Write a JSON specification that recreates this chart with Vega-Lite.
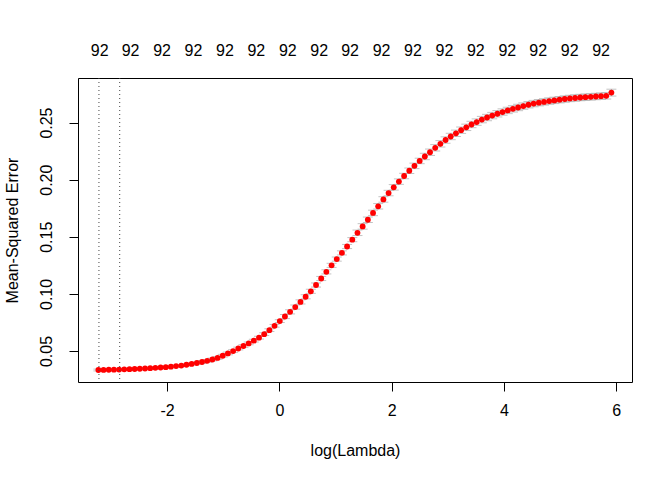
{
  "$schema": "https://vega.github.io/schema/vega-lite/v6.json",
  "width": 554,
  "height": 304,
  "autosize": {"type": "none"},
  "padding": {"left": 78, "top": 78, "right": 40, "bottom": 98},
  "background": "white",
  "config": {
    "view": {"stroke": "black", "strokeWidth": 1},
    "font": "Liberation Sans",
    "axis": {"grid": false, "domain": false, "labelFont": "Liberation Sans", "titleFont": "Liberation Sans", "labelFontSize": 16, "titleFontSize": 16, "titleFontWeight": "normal", "labelColor": "black", "titleColor": "black", "tickColor": "black", "tickSize": 9, "tickWidth": 1, "labelFlush": false, "labelOverlap": false}
  },
  "datasets": {
    "cv": [
      {"logLambda": -3.225, "cvm": 0.0334, "cvlo": 0.0326, "cvup": 0.0342},
      {"logLambda": -3.133, "cvm": 0.0335, "cvlo": 0.0327, "cvup": 0.0343},
      {"logLambda": -3.040, "cvm": 0.0336, "cvlo": 0.0328, "cvup": 0.0344},
      {"logLambda": -2.948, "cvm": 0.0337, "cvlo": 0.0329, "cvup": 0.0345},
      {"logLambda": -2.856, "cvm": 0.0338, "cvlo": 0.0330, "cvup": 0.0346},
      {"logLambda": -2.764, "cvm": 0.0340, "cvlo": 0.0332, "cvup": 0.0348},
      {"logLambda": -2.671, "cvm": 0.0341, "cvlo": 0.0333, "cvup": 0.0349},
      {"logLambda": -2.579, "cvm": 0.0343, "cvlo": 0.0335, "cvup": 0.0351},
      {"logLambda": -2.487, "cvm": 0.0345, "cvlo": 0.0337, "cvup": 0.0353},
      {"logLambda": -2.394, "cvm": 0.0347, "cvlo": 0.0339, "cvup": 0.0355},
      {"logLambda": -2.302, "cvm": 0.0350, "cvlo": 0.0342, "cvup": 0.0358},
      {"logLambda": -2.210, "cvm": 0.0353, "cvlo": 0.0345, "cvup": 0.0361},
      {"logLambda": -2.117, "cvm": 0.0356, "cvlo": 0.0348, "cvup": 0.0364},
      {"logLambda": -2.025, "cvm": 0.0359, "cvlo": 0.0351, "cvup": 0.0367},
      {"logLambda": -1.933, "cvm": 0.0363, "cvlo": 0.0355, "cvup": 0.0371},
      {"logLambda": -1.841, "cvm": 0.0368, "cvlo": 0.0360, "cvup": 0.0376},
      {"logLambda": -1.748, "cvm": 0.0373, "cvlo": 0.0365, "cvup": 0.0381},
      {"logLambda": -1.656, "cvm": 0.0380, "cvlo": 0.0372, "cvup": 0.0388},
      {"logLambda": -1.564, "cvm": 0.0387, "cvlo": 0.0379, "cvup": 0.0395},
      {"logLambda": -1.471, "cvm": 0.0395, "cvlo": 0.0387, "cvup": 0.0403},
      {"logLambda": -1.379, "cvm": 0.0404, "cvlo": 0.0392, "cvup": 0.0416},
      {"logLambda": -1.287, "cvm": 0.0414, "cvlo": 0.0402, "cvup": 0.0426},
      {"logLambda": -1.194, "cvm": 0.0426, "cvlo": 0.0414, "cvup": 0.0438},
      {"logLambda": -1.102, "cvm": 0.0440, "cvlo": 0.0428, "cvup": 0.0452},
      {"logLambda": -1.010, "cvm": 0.0459, "cvlo": 0.0447, "cvup": 0.0471},
      {"logLambda": -0.918, "cvm": 0.0479, "cvlo": 0.0467, "cvup": 0.0491},
      {"logLambda": -0.825, "cvm": 0.0500, "cvlo": 0.0488, "cvup": 0.0512},
      {"logLambda": -0.733, "cvm": 0.0522, "cvlo": 0.0510, "cvup": 0.0534},
      {"logLambda": -0.641, "cvm": 0.0544, "cvlo": 0.0532, "cvup": 0.0556},
      {"logLambda": -0.548, "cvm": 0.0567, "cvlo": 0.0555, "cvup": 0.0579},
      {"logLambda": -0.456, "cvm": 0.0591, "cvlo": 0.0579, "cvup": 0.0603},
      {"logLambda": -0.364, "cvm": 0.0617, "cvlo": 0.0605, "cvup": 0.0629},
      {"logLambda": -0.271, "cvm": 0.0648, "cvlo": 0.0636, "cvup": 0.0660},
      {"logLambda": -0.179, "cvm": 0.0683, "cvlo": 0.0671, "cvup": 0.0695},
      {"logLambda": -0.087, "cvm": 0.0721, "cvlo": 0.0709, "cvup": 0.0733},
      {"logLambda": 0.006, "cvm": 0.0762, "cvlo": 0.0750, "cvup": 0.0774},
      {"logLambda": 0.098, "cvm": 0.0802, "cvlo": 0.0784, "cvup": 0.0820},
      {"logLambda": 0.190, "cvm": 0.0843, "cvlo": 0.0825, "cvup": 0.0861},
      {"logLambda": 0.282, "cvm": 0.0885, "cvlo": 0.0867, "cvup": 0.0903},
      {"logLambda": 0.375, "cvm": 0.0930, "cvlo": 0.0912, "cvup": 0.0948},
      {"logLambda": 0.467, "cvm": 0.0975, "cvlo": 0.0957, "cvup": 0.0993},
      {"logLambda": 0.559, "cvm": 0.1023, "cvlo": 0.1005, "cvup": 0.1041},
      {"logLambda": 0.652, "cvm": 0.1078, "cvlo": 0.1060, "cvup": 0.1096},
      {"logLambda": 0.744, "cvm": 0.1135, "cvlo": 0.1117, "cvup": 0.1153},
      {"logLambda": 0.836, "cvm": 0.1193, "cvlo": 0.1175, "cvup": 0.1211},
      {"logLambda": 0.929, "cvm": 0.1250, "cvlo": 0.1232, "cvup": 0.1268},
      {"logLambda": 1.021, "cvm": 0.1305, "cvlo": 0.1287, "cvup": 0.1323},
      {"logLambda": 1.113, "cvm": 0.1359, "cvlo": 0.1341, "cvup": 0.1377},
      {"logLambda": 1.205, "cvm": 0.1415, "cvlo": 0.1397, "cvup": 0.1433},
      {"logLambda": 1.298, "cvm": 0.1475, "cvlo": 0.1457, "cvup": 0.1493},
      {"logLambda": 1.390, "cvm": 0.1535, "cvlo": 0.1511, "cvup": 0.1559},
      {"logLambda": 1.482, "cvm": 0.1591, "cvlo": 0.1567, "cvup": 0.1615},
      {"logLambda": 1.575, "cvm": 0.1649, "cvlo": 0.1625, "cvup": 0.1673},
      {"logLambda": 1.667, "cvm": 0.1709, "cvlo": 0.1685, "cvup": 0.1733},
      {"logLambda": 1.759, "cvm": 0.1767, "cvlo": 0.1743, "cvup": 0.1791},
      {"logLambda": 1.852, "cvm": 0.1827, "cvlo": 0.1803, "cvup": 0.1851},
      {"logLambda": 1.944, "cvm": 0.1883, "cvlo": 0.1859, "cvup": 0.1907},
      {"logLambda": 2.036, "cvm": 0.1933, "cvlo": 0.1909, "cvup": 0.1957},
      {"logLambda": 2.128, "cvm": 0.1983, "cvlo": 0.1959, "cvup": 0.2007},
      {"logLambda": 2.221, "cvm": 0.2032, "cvlo": 0.2008, "cvup": 0.2056},
      {"logLambda": 2.313, "cvm": 0.2078, "cvlo": 0.2054, "cvup": 0.2102},
      {"logLambda": 2.405, "cvm": 0.2121, "cvlo": 0.2097, "cvup": 0.2145},
      {"logLambda": 2.498, "cvm": 0.2164, "cvlo": 0.2140, "cvup": 0.2188},
      {"logLambda": 2.590, "cvm": 0.2203, "cvlo": 0.2175, "cvup": 0.2231},
      {"logLambda": 2.682, "cvm": 0.2240, "cvlo": 0.2212, "cvup": 0.2268},
      {"logLambda": 2.775, "cvm": 0.2279, "cvlo": 0.2251, "cvup": 0.2307},
      {"logLambda": 2.867, "cvm": 0.2314, "cvlo": 0.2286, "cvup": 0.2342},
      {"logLambda": 2.959, "cvm": 0.2347, "cvlo": 0.2319, "cvup": 0.2375},
      {"logLambda": 3.051, "cvm": 0.2378, "cvlo": 0.2350, "cvup": 0.2406},
      {"logLambda": 3.144, "cvm": 0.2406, "cvlo": 0.2378, "cvup": 0.2434},
      {"logLambda": 3.236, "cvm": 0.2433, "cvlo": 0.2405, "cvup": 0.2461},
      {"logLambda": 3.328, "cvm": 0.2458, "cvlo": 0.2430, "cvup": 0.2486},
      {"logLambda": 3.421, "cvm": 0.2483, "cvlo": 0.2455, "cvup": 0.2511},
      {"logLambda": 3.513, "cvm": 0.2504, "cvlo": 0.2476, "cvup": 0.2532},
      {"logLambda": 3.605, "cvm": 0.2526, "cvlo": 0.2498, "cvup": 0.2554},
      {"logLambda": 3.698, "cvm": 0.2544, "cvlo": 0.2516, "cvup": 0.2572},
      {"logLambda": 3.790, "cvm": 0.2561, "cvlo": 0.2533, "cvup": 0.2589},
      {"logLambda": 3.882, "cvm": 0.2577, "cvlo": 0.2549, "cvup": 0.2605},
      {"logLambda": 3.974, "cvm": 0.2592, "cvlo": 0.2564, "cvup": 0.2620},
      {"logLambda": 4.067, "cvm": 0.2606, "cvlo": 0.2578, "cvup": 0.2634},
      {"logLambda": 4.159, "cvm": 0.2620, "cvlo": 0.2592, "cvup": 0.2648},
      {"logLambda": 4.251, "cvm": 0.2632, "cvlo": 0.2604, "cvup": 0.2660},
      {"logLambda": 4.344, "cvm": 0.2644, "cvlo": 0.2616, "cvup": 0.2672},
      {"logLambda": 4.436, "cvm": 0.2656, "cvlo": 0.2628, "cvup": 0.2684},
      {"logLambda": 4.528, "cvm": 0.2666, "cvlo": 0.2638, "cvup": 0.2694},
      {"logLambda": 4.621, "cvm": 0.2674, "cvlo": 0.2646, "cvup": 0.2702},
      {"logLambda": 4.713, "cvm": 0.2681, "cvlo": 0.2653, "cvup": 0.2709},
      {"logLambda": 4.805, "cvm": 0.2688, "cvlo": 0.2660, "cvup": 0.2716},
      {"logLambda": 4.897, "cvm": 0.2694, "cvlo": 0.2666, "cvup": 0.2722},
      {"logLambda": 4.990, "cvm": 0.2700, "cvlo": 0.2672, "cvup": 0.2728},
      {"logLambda": 5.082, "cvm": 0.2706, "cvlo": 0.2678, "cvup": 0.2734},
      {"logLambda": 5.174, "cvm": 0.2711, "cvlo": 0.2683, "cvup": 0.2739},
      {"logLambda": 5.267, "cvm": 0.2715, "cvlo": 0.2687, "cvup": 0.2743},
      {"logLambda": 5.359, "cvm": 0.2719, "cvlo": 0.2691, "cvup": 0.2747},
      {"logLambda": 5.451, "cvm": 0.2722, "cvlo": 0.2694, "cvup": 0.2750},
      {"logLambda": 5.544, "cvm": 0.2725, "cvlo": 0.2697, "cvup": 0.2753},
      {"logLambda": 5.636, "cvm": 0.2728, "cvlo": 0.2700, "cvup": 0.2756},
      {"logLambda": 5.728, "cvm": 0.2731, "cvlo": 0.2703, "cvup": 0.2759},
      {"logLambda": 5.821, "cvm": 0.2734, "cvlo": 0.2706, "cvup": 0.2762},
      {"logLambda": 5.913, "cvm": 0.2762, "cvlo": 0.2732, "cvup": 0.2792}
    ],
    "cuts": [
      {"logLambda": -3.215, "which": "lambda.min"},
      {"logLambda": -2.845, "which": "lambda.1se"}
    ]
  },
  "data": {"name": "cv"},
  "resolve": {"axis": {"x": "independent"}},
  "layer": [
    {
      "mark": {"type": "rule", "color": "#A9A9A9", "strokeWidth": 1},
      "encoding": {
        "x": {"field": "logLambda", "type": "quantitative",
              "scale": {"domain": [-3.588, 6.28], "nice": false, "zero": false},
              "axis": {"orient": "bottom", "values": [-2, 0, 2, 4, 6], "labelExpr": "toString(datum.value)", "title": "log(Lambda)", "labelPadding": 11, "titlePadding": 24}},
        "y": {"field": "cvlo", "type": "quantitative",
              "scale": {"domain": [0.0229, 0.289], "nice": false, "zero": false},
              "axis": {"values": [0.05, 0.1, 0.15, 0.2, 0.25], "format": ".2f", "labelAngle": -90, "title": "Mean-Squared Error", "labelPadding": 15, "titlePadding": 18}},
        "y2": {"field": "cvup"}
      }
    },
    {
      "mark": {"type": "tick", "orient": "horizontal", "color": "#A9A9A9", "size": 10, "thickness": 1},
      "encoding": {
        "x": {"field": "logLambda", "type": "quantitative", "axis": null},
        "y": {"field": "cvup", "type": "quantitative"}
      }
    },
    {
      "mark": {"type": "tick", "orient": "horizontal", "color": "#A9A9A9", "size": 10, "thickness": 1},
      "encoding": {
        "x": {"field": "logLambda", "type": "quantitative", "axis": null},
        "y": {"field": "cvlo", "type": "quantitative"}
      }
    },
    {
      "mark": {"type": "circle", "color": "#FF0000", "size": 34, "opacity": 1},
      "encoding": {
        "x": {"field": "logLambda", "type": "quantitative", "axis": null},
        "y": {"field": "cvm", "type": "quantitative"}
      }
    },
    {
      "data": {"name": "cuts"},
      "mark": {"type": "rule", "color": "#444444", "strokeWidth": 1, "strokeDash": [1, 3]},
      "encoding": {
        "x": {"field": "logLambda", "type": "quantitative",
              "axis": {"orient": "top", "values": [-3.21, -2.66, -2.10, -1.54, -0.98, -0.42, 0.14, 0.70, 1.25, 1.81, 2.37, 2.93, 3.49, 4.05, 4.60, 5.16, 5.72], "labelExpr": "'92'", "ticks": false, "title": null, "labelPadding": 20}}
      }
    }
  ]
}
